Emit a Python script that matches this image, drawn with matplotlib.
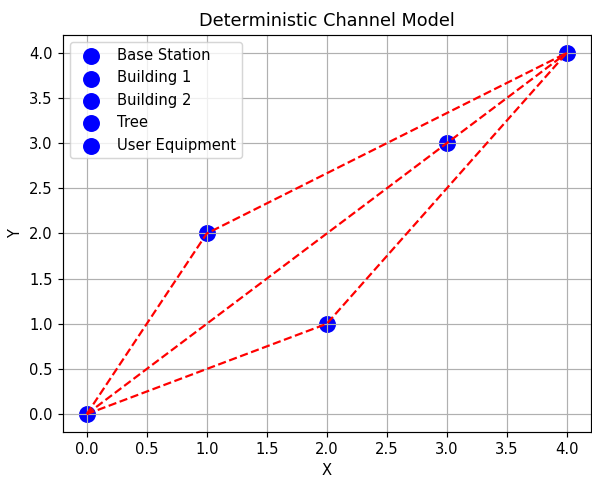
import matplotlib
matplotlib.use('Agg')
import matplotlib.pyplot as plt

names = ['Base Station', 'Building 1', 'Building 2', 'Tree', 'User Equipment']
xs = [0, 1, 2, 3, 4]
ys = [0, 2, 1, 3, 4]

# paths: base station -> reflector -> user equipment
paths = [(0, 1, 4), (0, 2, 4), (0, 3, 4)]

dpi = 106
fig = plt.figure(figsize=(592 / dpi, 477 / dpi), dpi=dpi)
ax = fig.add_subplot(111)
fig.subplots_adjust(left=0.106, right=0.998, top=0.927, bottom=0.094)

for i in range(len(names)):
	ax.scatter(xs[i], ys[i], color='blue', s=110, label=names[i])

for p in paths:
	ax.plot([xs[k] for k in p], [ys[k] for k in p], 'r--')

ax.set_xlabel('X')
ax.set_ylabel('Y')
ax.set_title('Deterministic Channel Model')
ax.grid(True)
ax.legend(loc='upper left')

fig.savefig('out.png', dpi=dpi)
